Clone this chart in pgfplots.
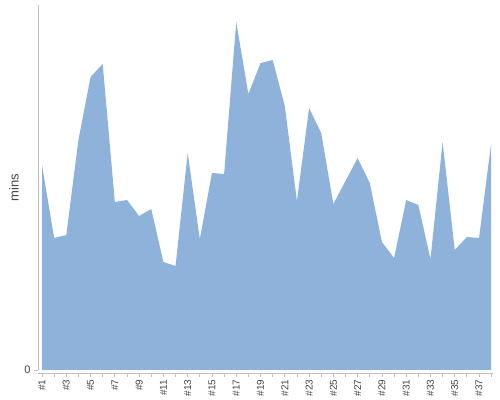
\documentclass[border=0pt]{standalone}
\usepackage{pgfplots}
\pgfplotsset{compat=1.18}
\usepackage{fontspec}
\setmainfont{Liberation Sans}
\definecolor{areac}{RGB}{143,178,218}
\definecolor{axc}{RGB}{192,192,192}
\definecolor{txt}{RGB}{68,68,68}
\begin{document}
\begin{tikzpicture}
\begin{axis}[
 name=ax,
 scale only axis, width=455pt, height=365pt,
 xmin=0.67, xmax=38.15, ymin=0, ymax=365,
 axis x line*=bottom, axis y line*=left,
 axis x line shift=3pt,
 axis line style={draw=axc, line width=0.8pt},
 tick style={draw=axc, line width=0.8pt},
 xtick={1,...,38},
 xticklabels={\#1,,\#3,,\#5,,\#7,,\#9,,\#11,,\#13,,\#15,,\#17,,\#19,,\#21,,\#23,,\#25,,\#27,,\#29,,\#31,,\#33,,\#35,,\#37,},
 x tick label style={rotate=90, anchor=east, font=\fontsize{10}{12}\selectfont, text=txt, inner sep=2.5pt},
 xtick align=outside, ytick align=outside,
 major tick length=4pt,
 ytick={0},
 y tick label style={font=\fontsize{11}{13}\selectfont, text=txt},
 /pgf/number format/assume math mode=true,
 ylabel={mins},
 ylabel style={font=\fontsize{13}{15}\selectfont, text=txt, at={(-24pt,0.5)}, anchor=center},
 clip=false,
]
\addplot[fill=areac, draw=none] coordinates {
(1,205) (2,132) (3,135) (4,230) (5,293) (6,306) (7,168) (8,170) (9,154) (10,161)
(11,108) (12,104) (13,217) (14,131) (15,197) (16,196) (17,348) (18,276) (19,307) (20,310)
(21,264) (22,169) (23,262) (24,237) (25,166) (26,189) (27,212) (28,187) (29,128) (30,112)
(31,170) (32,165) (33,111) (34,228) (35,120) (36,133) (37,132) (38,227)
} \closedcycle;
\end{axis}
\pgfresetboundingbox
\path[use as bounding box] ([xshift=-38pt,yshift=-30pt]ax.south west) rectangle ([xshift=7pt,yshift=5pt]ax.north east);
\end{tikzpicture}
\end{document}
